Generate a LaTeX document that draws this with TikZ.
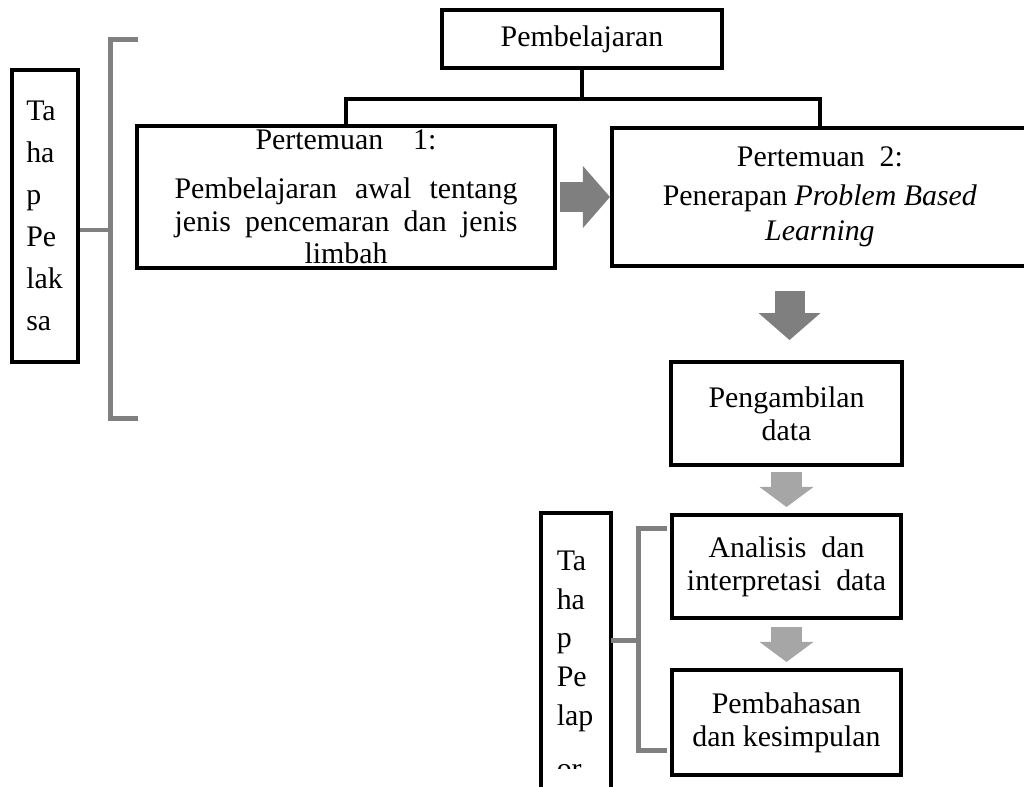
\documentclass[tikz,border=0pt]{standalone}
\usepackage{fontspec}
\setmainfont{Liberation Serif}
\usetikzlibrary{arrows.meta,positioning}
\definecolor{ArrowDark}{RGB}{127,127,127}
\definecolor{ArrowLight}{RGB}{166,166,166}
\definecolor{BracketGray}{RGB}{128,128,128}
\tikzset{
  box/.style={draw=black,line width=0.08cm,align=center,inner sep=2pt,
    font=\fontsize{17}{18.7}\selectfont},
  labbox/.style={box,minimum width=1.32cm,text width=0.75cm,align=left},
  tree/.style={line width=0.08cm,black},
  bracket/.style={line width=0.1cm,BracketGray},
  darkarrow/.style={-{Triangle[length=0.54cm,width=1.24cm,line width=0pt]},
    line width=0.6cm,ArrowDark},
  lightarrow/.style={-{Triangle[length=0.4cm,width=1.08cm,line width=0pt]},
    line width=0.62cm,ArrowLight}
}

\begin{document}
\begin{tikzpicture}[x=0.02cm,y=-0.02cm]
      \useasboundingbox (0,0) rectangle (1024,787);
      \clip (0,0) rectangle (1024,787);
      \node[box,minimum width=5.6cm,minimum height=1.16cm] (pemb) at (582,39) {Pembelajaran};
      \node[box,minimum width=8.36cm,minimum height=2.84cm] (p1) at (346,197)
        {Pertemuan\quad 1:\\[0.32cm]\makebox[6.86cm][s]{Pembelajaran awal tentang}\\\makebox[6.86cm][s]{jenis pencemaran dan jenis}\\limbah};
      \node[box,minimum width=8.32cm,minimum height=2.78cm,right=1.06cm of p1] (p2)
        {Pertemuan\enspace 2:\\[0.12cm]Penerapan \textit{Problem Based}\\[0.04cm]\textit{Learning}};
      \node[box,minimum width=4.62cm,minimum height=2.06cm] (peng) at (786.5,413.5) {Pengambilan\\data};
      \node[box,minimum width=4.58cm,minimum height=2.06cm,below=0.92cm of peng] (anal) {Analisis\enspace dan\\interpretasi\enspace data};
      \node[box,minimum width=4.58cm,minimum height=2.1cm,below=0.96cm of anal] (bahas) {Pembahasan\\dan kesimpulan};
      \node[labbox,minimum height=5.84cm,font=\fontsize{17}{23.9}\selectfont] (lab1) at (45,216) {Ta\\ha\\p\\Pe\\lak\\sa};
      \begin{scope}
        \clip (0,0) rectangle (1024,768);
        \node[labbox,draw=none,minimum height=6.0cm,font=\fontsize{17}{22}\selectfont] (lab2) at (575.5,665) {Ta\\ha\\p\\Pe\\lap\\[0.3cm]or};
      \end{scope}
      \draw[tree] (lab2.south west) |- (lab2.north east) -- (lab2.south east);
      % tree under Pembelajaran
      \draw[tree] (pemb.south) -- ++(0,29) -| (p1.north);
      \draw[tree] (pemb.south) -- ++(0,29) -| (p2.north);
      % block arrows
      \draw[darkarrow,shorten <=0.06cm] (p1.east) -- (p2.west);
      \draw[darkarrow,shorten <=0.46cm,shorten >=0.4cm] ([xshift=0.06cm]peng.north |- p2.south) -- ([xshift=0.06cm]peng.north);
      \draw[lightarrow,shorten <=0.1cm,shorten >=0.12cm] (peng) -- (anal);
      \draw[lightarrow,shorten <=0.14cm,shorten >=0.12cm] (anal) -- (bahas);
      % brackets
      \coordinate (b1top) at (138,40);
      \coordinate (b1bot) at (138,418);
      \coordinate (b1mid) at (110,230);
      \draw[bracket] (b1top) -- (b1mid |- b1top) -- (b1mid |- b1bot) -- (b1bot);
      \draw[bracket] (lab1.east |- b1mid) -- (b1mid);
      \coordinate (b2top) at (667,528);
      \coordinate (b2bot) at (667,750);
      \coordinate (b2mid) at (638,640);
      \draw[bracket] (b2top) -- (b2mid |- b2top) -- (b2mid |- b2bot) -- (b2bot);
      \draw[bracket] (lab2.east |- b2mid) -- (b2mid);
    \end{tikzpicture}
\end{document}
